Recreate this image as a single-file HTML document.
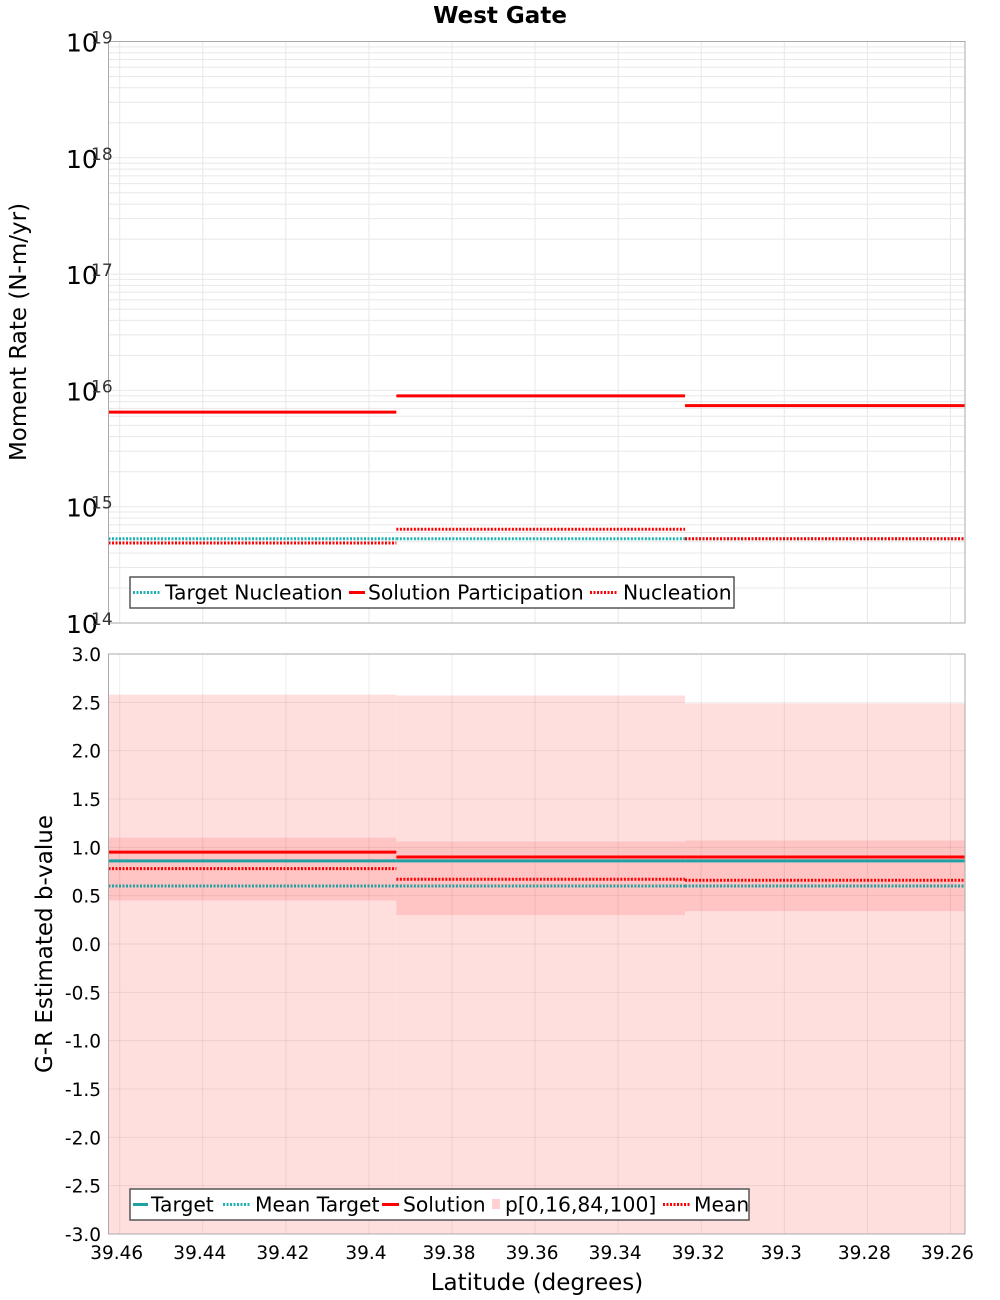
<!DOCTYPE html>
<html><head><meta charset="utf-8"><style>
body{margin:0;background:#fff;}
svg{display:block;font-family:"DejaVu Sans","Liberation Sans",sans-serif;}
</style></head><body>
<svg id="c" width="1000" height="1300" xmlns="http://www.w3.org/2000/svg"></svg>
<script>
const xTicks=[39.46,39.44,39.42,39.40,39.38,39.36,39.34,39.32,39.30,39.28,39.26];
const xTickLabels=["39.46","39.44","39.42","39.4","39.38","39.36","39.34","39.32","39.3","39.28","39.26"];
const segStart=[39.4627,39.3934,39.3239];
const segEnd=[39.3934,39.3239,39.2565];
const targetNucleation=[5.3e14,5.3e14,5.3e14];
const solutionParticipation=[6.5e15,8.97e15,7.4e15];
const nucleation=[4.87e14,6.4e14,5.3e14];
const yDecades=[14,15,16,17,18,19];
const bTarget=[0.86,0.86,0.86];
const bMeanTarget=[0.60,0.60,0.60];
const bSolution=[0.95,0.90,0.90];
const bMean=[0.78,0.67,0.66];
const bP0=[-3,-3,-3];
const bP16=[0.45,0.30,0.34];
const bP84=[1.10,1.06,1.07];
const bP100=[2.58,2.57,2.49];
const bTicks=[3,2.5,2,1.5,1,0.5,0,-0.5,-1,-1.5,-2,-2.5,-3];

const svg=document.getElementById('c');
const NS='http://www.w3.org/2000/svg';
function mk(tag,attrs,parent){const e=document.createElementNS(NS,tag);for(const k in attrs)e.setAttribute(k,attrs[k]);(parent||svg).appendChild(e);return e;}
const L=108.5,R=965,T1=41.5,B1=623,T2=654,B2=1234;
const X=v=>L+(39.4627-v)/(39.4627-39.2565)*(R-L);
const Y1=v=>B1-(Math.log10(v)-14)/5*(B1-T1);
const Y2=v=>T2+(3-v)/6*(B2-T2);

let t=mk('text',{x:500,y:23,'text-anchor':'middle','font-size':23,'font-weight':'bold'});


t.textContent='West Gate';

// ===== top panel
let g1=mk('g',{});


mk('rect',{x:L,y:T1,width:R-L,height:B1-T1,fill:'#fff'},g1);
for(let d=14;d<19;d++)for(let m=1;m<10;m++){const y=Y1(m*Math.pow(10,d));mk('line',{x1:L,x2:R,y1:y,y2:y,stroke:'#e8e8e8','stroke-width':1},g1);}
xTicks.forEach(v=>{const x=X(v);mk('line',{x1:x,x2:x,y1:T1,y2:B1,stroke:'#e8e8e8'},g1);});
for(let i=0;i<3;i++){
 let l=mk('line',{x1:X(segStart[i]),x2:X(segEnd[i]),y1:Y1(targetNucleation[i]),y2:Y1(targetNucleation[i]),stroke:'#20b2b2','stroke-width':3,'stroke-dasharray':'2,1.5'},g1);
 
 
 l=mk('line',{x1:X(segStart[i]),x2:X(segEnd[i]),y1:Y1(nucleation[i]),y2:Y1(nucleation[i]),stroke:'#f00','stroke-width':3,'stroke-dasharray':'2,1.5'},g1);
 
 
 l=mk('line',{x1:X(segStart[i]),x2:X(segEnd[i]),y1:Y1(solutionParticipation[i]),y2:Y1(solutionParticipation[i]),stroke:'#f00','stroke-width':3},g1);
 
 
}
mk('rect',{x:L,y:T1,width:R-L,height:B1-T1,fill:'none',stroke:'#aaa'},g1);
yDecades.forEach(d=>{const y=Y1(Math.pow(10,d));
 let tx=mk('text',{x:66,y:y+10,'font-size':25,'text-anchor':'start'},g1);
 
 
 tx.textContent='10';
 let s=mk('text',{x:91,y:y+2,'font-size':17,fill:'#333'},g1);
 s.textContent=String(d);});
t=mk('text',{x:0,y:0,'font-size':23,'text-anchor':'middle',transform:'translate(26,332) rotate(-90)'},g1);


t.textContent='Moment Rate (N-m/yr)';
let lg=mk('g',{},g1);


mk('rect',{x:130,y:577,width:604,height:31,fill:'#fff',stroke:'#555','stroke-width':1.5},lg);
const lt=[['Target Nucleation','#20b2b2',true,133,27,165],['Solution Participation','#f00',false,349,16,368],['Nucleation','#f00',true,590,28,623]];
lt.forEach(e=>{mk('line',{x1:e[3],x2:e[3]+e[4],y1:592.5,y2:592.5,stroke:e[1],'stroke-width':3,'stroke-dasharray':e[2]?'2,1.5':'none'},lg);
 let tx=mk('text',{x:e[5],y:599.5,'font-size':20.3},lg);tx.textContent=e[0];});

// ===== bottom panel
let g2=mk('g',{});


mk('rect',{x:L,y:T2,width:R-L,height:B2-T2,fill:'#fff'},g2);
for(let i=0;i<3;i++){
 let r=mk('rect',{x:X(segStart[i]),y:Y2(bP100[i]),width:X(segEnd[i])-X(segStart[i]),height:Y2(bP0[i])-Y2(bP100[i]),fill:'#ffdede'},g2);
 
 
 r=mk('rect',{x:X(segStart[i]),y:Y2(bP84[i]),width:X(segEnd[i])-X(segStart[i]),height:Y2(bP16[i])-Y2(bP84[i]),fill:'#ffc4c4'},g2);
 
 
}
bTicks.forEach(v=>{const y=Y2(v);mk('line',{x1:L,x2:R,y1:y,y2:y,stroke:'rgba(0,0,0,0.07)'},g2);
 let tx=mk('text',{x:101,y:y+7,'font-size':18.5,'text-anchor':'end'},g2);
 
 
 tx.textContent=v.toFixed(1);});
xTicks.forEach((v,i)=>{const x=X(v);mk('line',{x1:x,x2:x,y1:T2,y2:B2,stroke:'rgba(0,0,0,0.07)'},g2);
 let tx=mk('text',{x:x-3,y:1259,'font-size':18.5,'text-anchor':'middle'},g2);
 
 
 tx.textContent=xTickLabels[i];});
for(let i=0;i<3;i++){
 const x1=X(segStart[i]),x2=X(segEnd[i]);
 let l=mk('line',{x1:x1,x2:x2,y1:Y2(bTarget[i]),y2:Y2(bTarget[i]),stroke:'#20a0a0','stroke-width':3},g2);
 
 
 l=mk('line',{x1:x1,x2:x2,y1:Y2(bMeanTarget[i]),y2:Y2(bMeanTarget[i]),stroke:'#20a0a0','stroke-width':3,'stroke-dasharray':'2,1.5'},g2);
 
 
 l=mk('line',{x1:x1,x2:x2,y1:Y2(bSolution[i]),y2:Y2(bSolution[i]),stroke:'#f00','stroke-width':3},g2);
 
 
 l=mk('line',{x1:x1,x2:x2,y1:Y2(bMean[i]),y2:Y2(bMean[i]),stroke:'#f00','stroke-width':3,'stroke-dasharray':'2,1.5'},g2);
 
 
}
mk('rect',{x:L,y:T2,width:R-L,height:B2-T2,fill:'none',stroke:'#aaa'},g2);
t=mk('text',{x:0,y:0,'font-size':23,'text-anchor':'middle',transform:'translate(52,944) rotate(-90)'},g2);


t.textContent='G-R Estimated b-value';
t=mk('text',{x:537,y:1290,'font-size':23,'text-anchor':'middle'},g2);


t.textContent='Latitude (degrees)';
let lg2=mk('g',{},g2);


mk('rect',{x:130,y:1189,width:619,height:31,fill:'#fff',stroke:'#555','stroke-width':1.5},lg2);
const lb=[['Target','#20a0a0','solid',133,15,151],['Mean Target','#20b2b2','dot',223,27,255],['Solution','#f00','solid',382,17,403],['p[0,16,84,100]','#ffd0d0','box',492,8,505],['Mean','#f00','dot',663,27,694]];
lb.forEach(e=>{
 if(e[2]==='box')mk('rect',{x:e[3],y:1199,width:8,height:10,fill:e[1]},lg2);
 else mk('line',{x1:e[3],x2:e[3]+e[4],y1:1204.5,y2:1204.5,stroke:e[1],'stroke-width':3,'stroke-dasharray':e[2]==='dot'?'2,1.5':'none'},lg2);
 let tx=mk('text',{x:e[5],y:1211.5,'font-size':20.3},lg2);tx.textContent=e[0];});
</script>
</body></html>
